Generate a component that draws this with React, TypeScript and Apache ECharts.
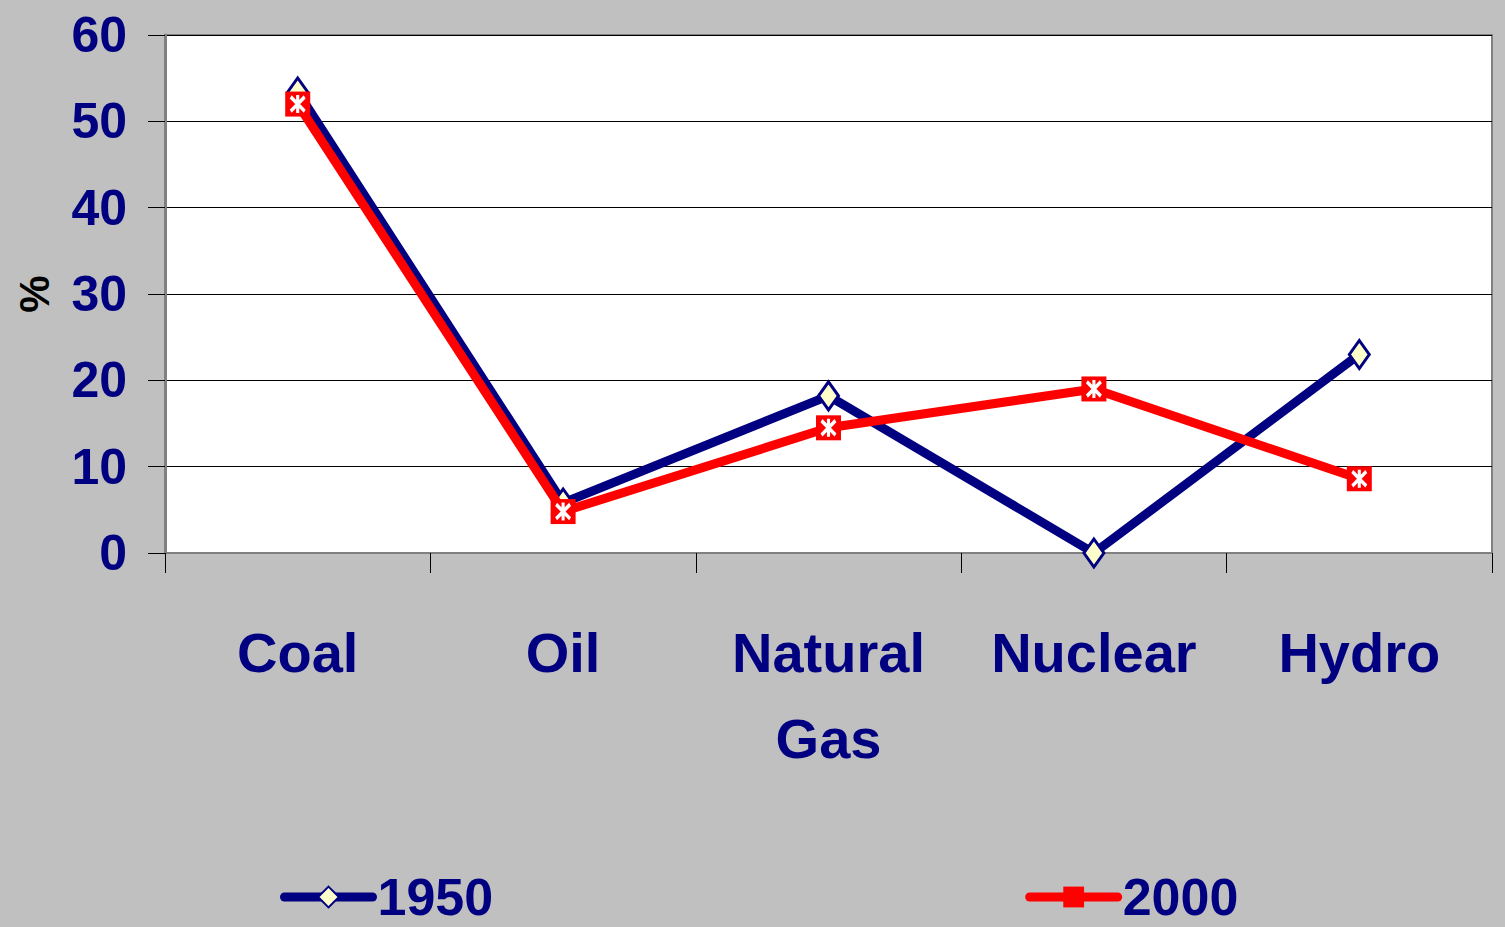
import React, { useEffect, useRef } from "react";
import * as echarts from "echarts";

const categories = ["Coal", "Oil", "Natural\nGas", "Nuclear", "Hydro"];
const series1950 = [53.4, 5.8, 18.2, 0, 23];
const series2000 = [52, 4.8, 14.5, 19, 8.6];
const yTicks = { min: 0, max: 60, interval: 10 };

const FONT = "'Liberation Sans', Arial, sans-serif";
const NAVY = "#000080";
const RED = "#ff0000";

export default function App() {
  const ref = useRef<HTMLDivElement>(null);
  useEffect(() => {
    if (!ref.current) return;
    const chart = echarts.init(ref.current, undefined, { renderer: "svg" });
    chart.setOption({
      animation: false,
      backgroundColor: "#c0c0c0",
      grid: {
        left: 165,
        right: 13,
        top: 35,
        bottom: 374,
        show: true,
        backgroundColor: "#ffffff",
        borderColor: "#808080",
        borderWidth: 2,
        outerBoundsMode: "none",
        containLabel: false,
      },
      legend: {
        data: ["1950", "2000"],
        left: 275,
        top: 866,
        itemGap: 532,
        itemWidth: 88,
        itemHeight: 26,
        lineStyle: { width: 9, cap: "round" },
        textStyle: { fontFamily: FONT, fontWeight: "bold", fontSize: 52, color: NAVY },
      },
      xAxis: {
        type: "category",
        data: categories,
        boundaryGap: true,
        axisLine: { lineStyle: { color: "#808080", width: 2 } },
        axisTick: { show: true, length: 20, interval: 0, lineStyle: { color: "#000000", width: 1 } },
        axisLabel: {
          interval: 0,
          margin: 56,
          fontFamily: FONT,
          fontWeight: "bold",
          fontSize: 56,
          lineHeight: 86,
          color: NAVY,
          verticalAlign: "top",
        },
      },
      yAxis: {
        type: "value",
        min: yTicks.min,
        max: yTicks.max,
        interval: yTicks.interval,
        name: "%",
        nameLocation: "middle",
        nameRotate: 90,
        nameGap: 110,
        nameTextStyle: { fontFamily: FONT, fontWeight: "bold", fontSize: 42, color: "#000000" },
        axisLine: { show: true, lineStyle: { color: "#808080", width: 3 } },
        axisTick: { show: true, length: 17, lineStyle: { color: "#000000", width: 1 } },
        axisLabel: { margin: 38, fontFamily: FONT, fontWeight: "bold", fontSize: 50, color: NAVY },
        splitLine: { show: true, lineStyle: { color: "#000000", width: 1 } },
      },
      series: [
        {
          name: "1950",
          type: "line",
          data: series1950,
          symbol: "diamond",
          symbolSize: [20, 28],
          lineStyle: { color: NAVY, width: 9 },
          itemStyle: { color: "#ffffcc", borderColor: NAVY, borderWidth: 3 },
          z: 2,
        },
        {
          name: "2000",
          type: "line",
          data: series2000,
          symbol: "rect",
          symbolSize: 25,
          lineStyle: { color: RED, width: 9 },
          itemStyle: { color: RED, borderColor: RED, borderWidth: 0 },
          z: 3,
        },
        {
          name: "2000mark",
          type: "scatter",
          data: series2000,
          symbol: "path://M1,1 L9,9 M9,1 L1,9 M5,0 L5,10",
          symbolSize: [14, 18],
          itemStyle: { color: "none", borderColor: "#ffffff", borderWidth: 3.5, opacity: 1 },
          silent: true,
          z: 4,
        },
      ],
    });
    return () => chart.dispose();
  }, []);
  return (
    <div
      ref={ref}
      style={{ position: "fixed", left: 0, top: 0, width: 1505, height: 927 }}
    />
  );
}
